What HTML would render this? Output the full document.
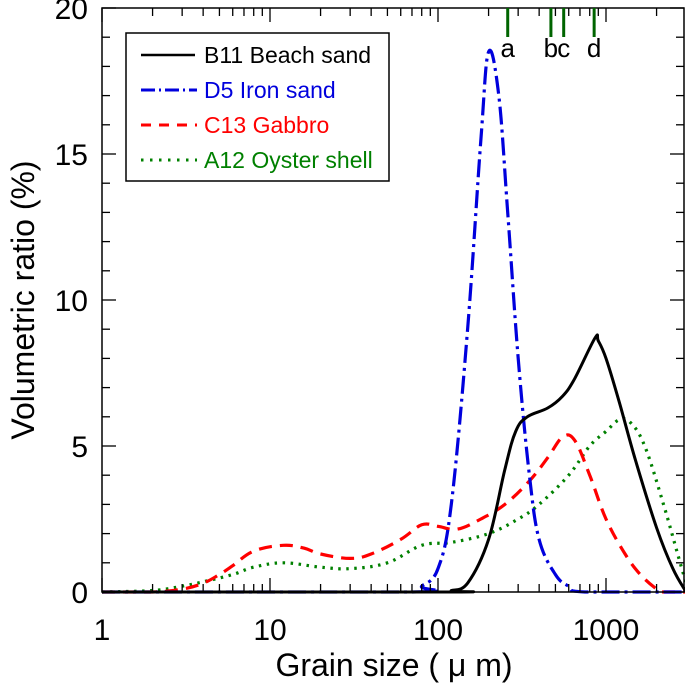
<!DOCTYPE html>
<html><head><meta charset="utf-8"><style>
body{margin:0;background:#fff}
svg{display:block;font-family:"Liberation Sans",Arial,sans-serif}
</style></head><body>
<svg id="chart" width="685" height="685" viewBox="0 0 685 685">
<g id="marks"></g>
<g id="axes"></g>
<rect x="126" y="33" width="263" height="148" fill="#fff" stroke="#000" stroke-width="1.5"/>
<g><line x1="141" y1="55" x2="195" y2="55" stroke="#000" stroke-width="2.6"/><text x="204" y="63" font-size="23" fill="#000">B11 Beach sand</text></g>
<g><line x1="141" y1="90" x2="197" y2="90" stroke="#0000dd" stroke-width="3" stroke-dasharray="14,4,2,4"/><text x="204" y="98" font-size="23" fill="#0000dd">D5 Iron sand</text></g>
<g><line x1="141" y1="125" x2="197" y2="125" stroke="#ff0000" stroke-width="3" stroke-dasharray="10,8"/><text x="204" y="133" font-size="23" fill="#ff0000">C13 Gabbro</text></g>
<g><line x1="141" y1="160" x2="197" y2="160" stroke="#008000" stroke-width="3" stroke-dasharray="2.5,6.5"/><text x="204" y="168" font-size="23" fill="#008000">A12 Oyster shell</text></g>
</svg>
<script>
const b11Sizes=[1,110,120,150,200,250,290,340,450,550,650,860,900,1000,1200,1500,2000,2500,3000];
const b11Vals=[0,0,0.05,0.3,1.8,4.2,5.5,6.0,6.3,6.7,7.3,8.7,8.6,8.0,6.5,4.5,2.2,0.8,0];
const d5Sizes=[1,70,80,100,120,150,180,200,230,260,300,350,400,500,600,750,3000];
const d5Vals=[0,0,0.2,0.8,3,9,15.5,18.5,17.0,13,8,4,1.8,0.6,0.2,0,0];
const c13Sizes=[1,2,3,4,5,6,8,12,16,20,30,40,60,80,100,130,180,250,350,450,550,650,800,1000,1300,1600,2000,2200,3000];
const c13Vals=[0,0,0.1,0.3,0.6,0.9,1.4,1.6,1.5,1.3,1.15,1.3,1.8,2.3,2.25,2.15,2.5,3.0,3.8,4.6,5.3,5.2,4.0,2.5,1.3,0.6,0.1,0,0];
const a12Sizes=[1,2,3,4,6,8,12,20,30,50,80,120,200,300,400,600,800,1000,1200,1400,1700,2200,2700,3000];
const a12Vals=[0,0.05,0.2,0.35,0.6,0.85,1.0,0.85,0.8,1.0,1.6,1.7,2.0,2.5,3.0,4.0,5.0,5.5,5.9,5.8,5.0,3.0,1.2,0.3];
const xTickVals=[1,10,100,1000];
const yTickVals=[0,5,10,15,20];
const markerLabels=['a','b','c','d'];
const markerSizes=[260,470,560,850];

const L=102,R=684,T=8,B=592;
const X=v=>L+Math.log10(v)*168;
const Y=v=>B-v*(B-T)/20;
const NS='http://www.w3.org/2000/svg';
function mk(tag,attrs,parent){const e=document.createElementNS(NS,tag);for(const k in attrs)e.setAttribute(k,attrs[k]);parent.appendChild(e);return e;}
const marks=document.getElementById('marks'),axes=document.getElementById('axes');
function smoothPath(pts){
  let d='M'+pts[0][0].toFixed(1)+','+pts[0][1].toFixed(1);
  for(let i=0;i<pts.length-1;i++){
    const p0=pts[Math.max(0,i-1)],p1=pts[i],p2=pts[i+1],p3=pts[Math.min(pts.length-1,i+2)];
    const k=0.18;
    let c1x=p1[0]+(p2[0]-p0[0])*k,c1y=p1[1]+(p2[1]-p0[1])*k;
    let c2x=p2[0]-(p3[0]-p1[0])*k,c2y=p2[1]-(p3[1]-p1[1])*k;
    c1y=Math.min(c1y,B);c2y=Math.min(c2y,B);
    d+='C'+c1x.toFixed(1)+','+c1y.toFixed(1)+' '+c2x.toFixed(1)+','+c2y.toFixed(1)+' '+p2[0].toFixed(1)+','+p2[1].toFixed(1);
  }
  return d;
}
function series(sz,vals,color,dash,w,name){
  const pts=sz.map((s,i)=>[X(s),Y(vals[i])]);
  const p=mk('path',{d:smoothPath(pts),fill:'none',stroke:color,'stroke-width':w,'stroke-dasharray':dash,'stroke-linejoin':'round'},marks);
  
  
}
series(a12Sizes,a12Vals,'#008000','2.5,5.5',3.2,'series-a12-oyster-shell');
series(c13Sizes,c13Vals,'#ff0000','13,8',3.2,'series-c13-gabbro');
series(d5Sizes,d5Vals,'#0000dd','18,5,3,5',3.2,'series-d5-iron-sand');
series(b11Sizes,b11Vals,'#000','',3,'series-b11-beach-sand');
const frame=mk('rect',{x:L,y:T,width:R-L,height:B-T,fill:'none',stroke:'#000','stroke-width':1.5},axes);


for(let dec=0;dec<4;dec++){for(let m=1;m<10;m++){const v=Math.pow(10,dec)*m;if(v>3000)break;const x=X(v);const len=m===1?14:8;
 mk('line',{x1:x,y1:B,x2:x,y2:B-len,stroke:'#000','stroke-width':1.3},axes);
 mk('line',{x1:x,y1:T,x2:x,y2:T+len,stroke:'#000','stroke-width':1.3},axes);}}
xTickVals.forEach(v=>{const t=mk('text',{x:X(v),y:B+48,'font-size':30,'text-anchor':'middle'},axes);t.textContent=String(v);
 
 });
for(let v=0;v<=20;v++){const y=Y(v);const len=v%5===0?14:8;
 mk('line',{x1:L,y1:y,x2:L+len,y2:y,stroke:'#000','stroke-width':1.3},axes);
 mk('line',{x1:R,y1:y,x2:R-len,y2:y,stroke:'#000','stroke-width':1.3},axes);}
yTickVals.forEach(v=>{const t=mk('text',{x:L-14,y:Y(v)+11,'font-size':30,'text-anchor':'end'},axes);t.textContent=String(v);
 
 });
const xt=mk('text',{x:394,y:676,'font-size':32,'text-anchor':'middle'},axes);xt.textContent='Grain size ( μ m)';


const yt=mk('text',{x:0,y:0,'font-size':32,'text-anchor':'middle',transform:'translate(34,300) rotate(-90)'},axes);yt.textContent='Volumetric ratio (%)';


markerSizes.forEach((s,i)=>{const x=X(s);
 const l=mk('line',{x1:x,y1:T,x2:x,y2:37,stroke:'#006400','stroke-width':3},axes);
 
 
 const t=mk('text',{x:x,y:57,'font-size':26,'text-anchor':'middle'},axes);t.textContent=markerLabels[i];
 
 });
</script>
</body></html>
